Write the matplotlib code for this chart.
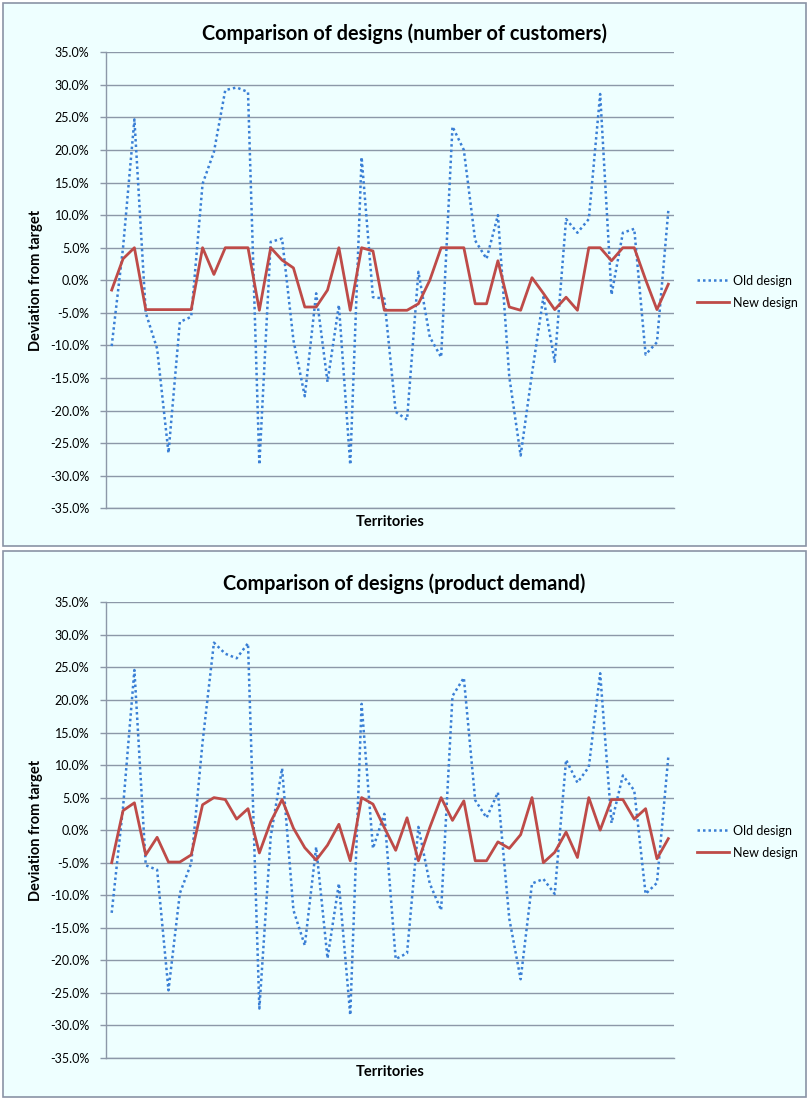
import numpy as np
import matplotlib
matplotlib.use('Agg')
import matplotlib.pyplot as plt
from matplotlib.patches import Rectangle
from matplotlib.ticker import FuncFormatter

plt.rcParams['font.family'] = ['Lato', 'DejaVu Sans']

territories = np.arange(50)

# deviation from target, in percent
customers_old = [-10.1, 5.0, 24.7, -5.0, -10.5, -26.5, -6.4, -5.6, 14.8, 19.7,
                 29.2, 29.6, 28.9, -28.3, 5.9, 6.4, -9.2, -17.8, -2.0, -15.6,
                 -3.8, -28.3, 18.9, -2.6, -2.8, -20.2, -21.4, 1.3, -8.7, -11.8,
                 23.6, 20.0, 6.1, 3.3, 10.0, -14.8, -26.9, -14.3, -2.6, -12.5,
                 9.4, 7.3, 9.4, 28.6, -2.2, 7.3, 7.9, -11.4, -9.5, 10.7]
customers_new = [-1.5, 3.3, 5.0, -4.5, -4.5, -4.5, -4.5, -4.5, 5.0, 0.9,
                 5.0, 5.0, 5.0, -4.6, 5.0, 3.1, 1.9, -4.1, -4.1, -1.5,
                 5.0, -4.6, 5.0, 4.5, -4.6, -4.6, -4.6, -3.6, 0.0, 5.0,
                 5.0, 5.0, -3.6, -3.6, 3.0, -4.1, -4.6, 0.4, -2.0, -4.5,
                 -2.6, -4.6, 5.0, 5.0, 3.0, 5.0, 5.0, 0.1, -4.5, -0.6]

demand_old = [-12.7, 3.5, 24.6, -5.4, -6.1, -24.6, -9.7, -5.1, 13.5, 28.8,
              27.1, 26.4, 28.7, -27.4, -1.0, 9.5, -12.3, -17.7, -2.6, -19.7,
              -8.2, -28.4, 19.4, -2.8, 2.5, -19.8, -18.9, 0.5, -8.2, -12.3,
              20.6, 23.4, 4.6, 1.9, 5.8, -13.6, -22.9, -8.2, -7.5, -9.8,
              10.8, 7.3, 9.7, 24.1, 1.1, 8.4, 6.1, -9.8, -8.1, 11.3]
demand_new = [-5.0, 3.0, 4.2, -3.8, -1.1, -4.9, -4.9, -3.8, 3.9, 5.0,
              4.7, 1.7, 3.3, -3.5, 1.3, 4.7, 0.3, -2.7, -4.6, -2.3,
              0.9, -4.7, 5.0, 4.0, 0.4, -3.1, 1.9, -4.7, 0.4, 5.0,
              1.5, 4.5, -4.7, -4.7, -1.8, -2.8, -0.7, 5.0, -5.0, -3.4,
              -0.3, -4.2, 5.0, 0.0, 4.7, 4.7, 1.7, 3.3, -4.4, -1.3]

titles = ['Comparison of designs (number of customers)',
          'Comparison of designs (product demand)']

W, H = 808, 1099
bg = '#EEFFFF'
grid_col = '#8C98A8'
blue = '#3A7FD5'
red = '#BE4B48'

fig = plt.figure(figsize=(W / 100, H / 100), dpi=100)


def px_box(x0, y0, x1, y1):
    # pixel box (top-left origin) -> figure fraction [l, b, w, h]
    return [x0 / W, 1 - y1 / H, (x1 - x0) / W, (y1 - y0) / H]


def draw_panel(py0, py1, ay0, ay1, title, old, new):
    l, b, w, h = px_box(3, py0, 806, py1)
    fig.patches.append(Rectangle((l, b), w, h, transform=fig.transFigure,
                                 facecolor=bg, edgecolor='#8A94A6', lw=1.2, zorder=-5))
    ax = fig.add_axes(px_box(106, ay0, 674, ay1))
    ax.set_facecolor(bg)
    ax.plot(territories, old, color=blue, lw=1.8, linestyle=(0, (1, 1.2)),
            label='Old design')
    ax.plot(territories, new, color=red, lw=2.0, label='New design')
    ax.set_xlim(-0.5, 49.5)
    ax.set_ylim(-35, 35)
    ax.set_yticks(np.arange(-35, 36, 5))
    ax.yaxis.set_major_formatter(FuncFormatter(lambda v, p: '%.1f%%' % v))
    ax.set_xticks([])
    ax.grid(axis='y', color=grid_col, lw=1.0)
    ax.set_axisbelow(True)
    for s in ['top', 'right']:
        ax.spines[s].set_visible(False)
    for s in ['left', 'bottom']:
        ax.spines[s].set_color(grid_col)
        ax.spines[s].set_linewidth(1.0)
    ax.tick_params(axis='y', colors=grid_col, labelcolor='black', labelsize=9,
                   length=4, width=1.0, pad=8)
    ax.set_ylabel('Deviation from target', fontsize=10.5, fontweight='bold',
                  labelpad=5)
    ax.set_xlabel('Territories', fontsize=10.5, fontweight='bold', labelpad=5)
    # title sits over the middle of the whole panel, not the plot area
    ax.set_title(title, fontsize=14.3, fontweight='bold', pad=9,
                 x=(404.5 - 106) / 568)
    ax.legend(loc='center left', bbox_to_anchor=(1.02, 0.475), frameon=False,
              fontsize=9, handlelength=2.6, handletextpad=0.3, labelspacing=0.8)
    return ax


draw_panel(3, 546, 52.3, 508.3, titles[0], customers_old, customers_new)
draw_panel(551, 1097, 602.3, 1058, titles[1], demand_old, demand_new)

fig.savefig('out.png', dpi=100, facecolor='white')
